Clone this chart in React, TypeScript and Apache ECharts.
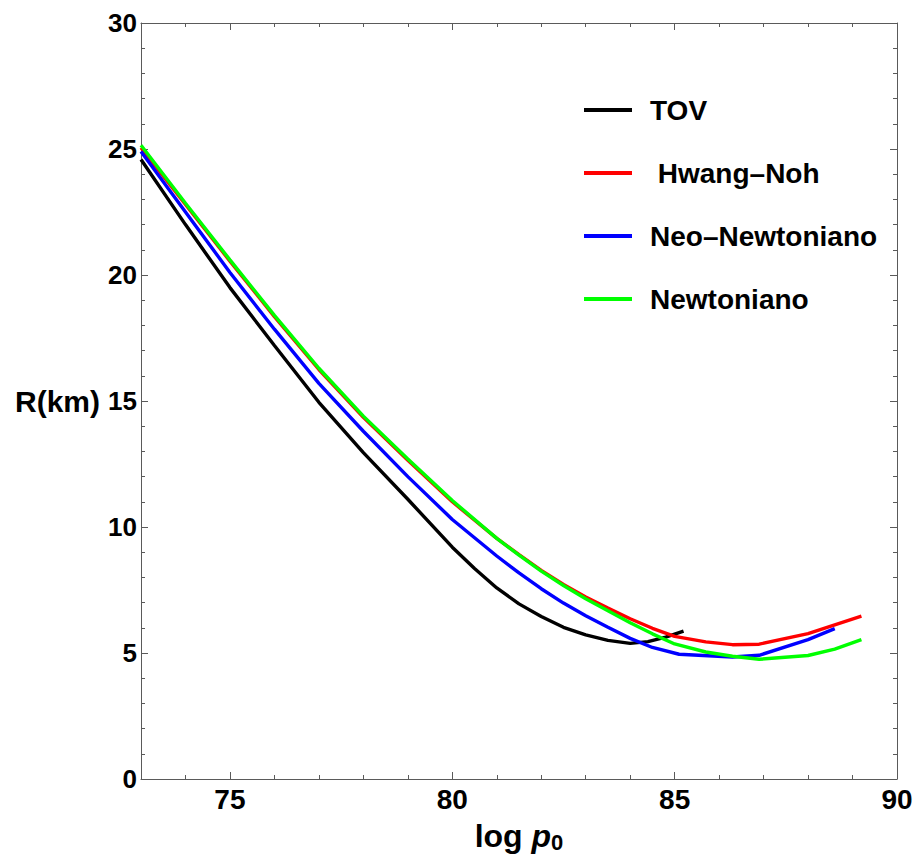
import React, { useEffect, useRef } from "react";
import * as echarts from "echarts";

const X_TOV = [73, 74, 75, 76, 77, 78, 79, 80, 80.5, 81, 81.5, 82, 82.5, 83, 83.5, 84, 84.4, 84.8, 85.2];
const R_TOV = [24.58, 22.0, 19.5, 17.2, 14.95, 12.95, 11.1, 9.2, 8.35, 7.58, 6.95, 6.45, 6.02, 5.72, 5.5, 5.38, 5.45, 5.63, 5.87];

const X_HN = [73, 74, 75, 76, 77, 78, 79, 80, 81, 81.5, 82, 82.5, 83, 83.5, 84, 84.5, 85, 85.7, 86.3, 86.9, 88.0, 89.2];
const R_HN = [25.05, 22.8, 20.55, 18.35, 16.25, 14.35, 12.65, 11.0, 9.55, 8.9, 8.28, 7.72, 7.22, 6.78, 6.36, 5.98, 5.66, 5.44, 5.33, 5.35, 5.77, 6.46];

const X_NEO = [73, 74, 75, 76, 77, 78, 79, 80, 81, 81.5, 82, 82.5, 83, 83.5, 84, 84.5, 85.1, 86.3, 86.9, 88.0, 88.6];
const R_NEO = [24.9, 22.5, 20.1, 17.85, 15.7, 13.8, 12.0, 10.3, 8.85, 8.18, 7.55, 6.98, 6.48, 6.02, 5.58, 5.22, 4.95, 4.84, 4.91, 5.53, 5.97];

const X_NEWT = [73, 74, 75, 76, 77, 78, 79, 80, 81, 81.5, 82, 82.5, 83, 83.5, 84, 84.5, 85, 85.7, 86.3, 86.9, 88.0, 88.6, 89.2];
const R_NEWT = [25.15, 22.85, 20.6, 18.4, 16.3, 14.4, 12.7, 11.05, 9.55, 8.88, 8.25, 7.68, 7.15, 6.68, 6.2, 5.76, 5.36, 5.04, 4.87, 4.75, 4.9, 5.15, 5.53];

const SERIES_NAMES = ["TOV", " Hwang\u2013Noh", "Neo\u2013Newtoniano", "Newtoniano"];
const SERIES_COLORS = ["#000000", "#ff0000", "#0000ff", "#00ff00"];

const X_MAJOR = [75, 80, 85, 90];
const Y_MAJOR = [0, 5, 10, 15, 20, 25, 30];

const FONT = "'Liberation Sans', Arial, sans-serif";
const FRAME = "#5a5a5a";

function zip(xs: number[], ys: number[]) {
  return xs.map((x, i) => [x, ys[i]]);
}

export default function App() {
  const ref = useRef<HTMLDivElement>(null);

  useEffect(() => {
    if (!ref.current) return;
    const chart = echarts.init(ref.current, null, { renderer: "svg" });

    const xAxisBase = (position: string, major: boolean, labels: boolean, withName: boolean) => ({
      type: "value",
      min: 73,
      max: 90,
      interval: 1,
      position,
      gridIndex: 0,
      axisLine: { show: !major, onZero: false, lineStyle: { color: FRAME, width: 1 } },
      axisTick: major
        ? { show: true, inside: true, length: 7, customValues: X_MAJOR, lineStyle: { color: FRAME, width: 1 } }
        : { show: true, inside: true, length: 4, lineStyle: { color: FRAME, width: 1 } },
      axisLabel: labels
        ? {
            show: true,
            customValues: X_MAJOR,
            margin: 6,
            fontSize: 28,
            fontWeight: "bold",
            fontFamily: FONT,
            color: "#000",
          }
        : { show: false },
      splitLine: { show: false },
      name: withName ? "{a|log }{b|p}{c|0}" : "",
      nameLocation: "middle",
      nameGap: 40,
      nameTextStyle: {
        rich: {
          a: { fontSize: 32, fontWeight: "bold", fontFamily: FONT, color: "#000", lineHeight: 34 },
          b: { fontSize: 32, fontWeight: "bold", fontStyle: "italic", fontFamily: FONT, color: "#000", lineHeight: 34 },
          c: { fontSize: 22, fontWeight: "bold", fontFamily: FONT, color: "#000", lineHeight: 12, verticalAlign: "bottom" },
        },
      },
    });

    const yAxisBase = (position: string, major: boolean, labels: boolean, withName: boolean) => ({
      type: "value",
      min: 0,
      max: 30,
      interval: 1,
      position,
      gridIndex: 0,
      axisLine: { show: !major, onZero: false, lineStyle: { color: FRAME, width: 1 } },
      axisTick: major
        ? { show: true, inside: true, length: 7, customValues: Y_MAJOR, lineStyle: { color: FRAME, width: 1 } }
        : { show: true, inside: true, length: 4, lineStyle: { color: FRAME, width: 1 } },
      axisLabel: labels
        ? {
            show: true,
            customValues: Y_MAJOR,
            margin: 4,
            fontSize: 26,
            fontWeight: "bold",
            fontFamily: FONT,
            color: "#000",
          }
        : { show: false },
      splitLine: { show: false },
      name: withName ? "R(km)" : "",
      nameLocation: "middle",
      nameRotate: 0,
      nameGap: 41,
      nameTextStyle: { fontSize: 30, fontWeight: "bold", fontFamily: FONT, color: "#000", align: "right" },
    });

    const seriesData = [zip(X_TOV, R_TOV), zip(X_HN, R_HN), zip(X_NEO, R_NEO), zip(X_NEWT, R_NEWT)];

    chart.setOption({
      animation: false,
      backgroundColor: "#ffffff",
      grid: { left: 141, right: 20, top: 23, bottom: 84, containLabel: false },
      xAxis: [
        xAxisBase("bottom", false, true, true),
        xAxisBase("bottom", true, false, false),
        xAxisBase("top", false, false, false),
        xAxisBase("top", true, false, false),
      ],
      yAxis: [
        yAxisBase("left", false, true, true),
        yAxisBase("left", true, false, false),
        yAxisBase("right", false, false, false),
        yAxisBase("right", true, false, false),
      ],
      legend: {
        show: true,
        orient: "vertical",
        left: 579,
        top: 90,
        itemWidth: 48,
        itemHeight: 4,
        itemGap: 33,
        icon: "rect",
        selectedMode: false,
        data: SERIES_NAMES,
        textStyle: {
          fontSize: 28,
          fontWeight: "bold",
          fontFamily: FONT,
          color: "#000",
          lineHeight: 30,
          padding: [0, 0, 0, 13],
        },
      },
      series: SERIES_NAMES.map((name, i) => ({
        name,
        type: "line",
        xAxisIndex: 0,
        yAxisIndex: 0,
        data: seriesData[i],
        showSymbol: false,
        symbol: "none",
        smooth: false,
        color: SERIES_COLORS[i],
        lineStyle: { color: SERIES_COLORS[i], width: 3.4 },
        z: 2 + i,
      })),
    });

    return () => chart.dispose();
  }, []);

  return (
    <div
      ref={ref}
      style={{ position: "fixed", left: 0, top: 0, width: 917, height: 863, background: "#fff" }}
    />
  );
}
